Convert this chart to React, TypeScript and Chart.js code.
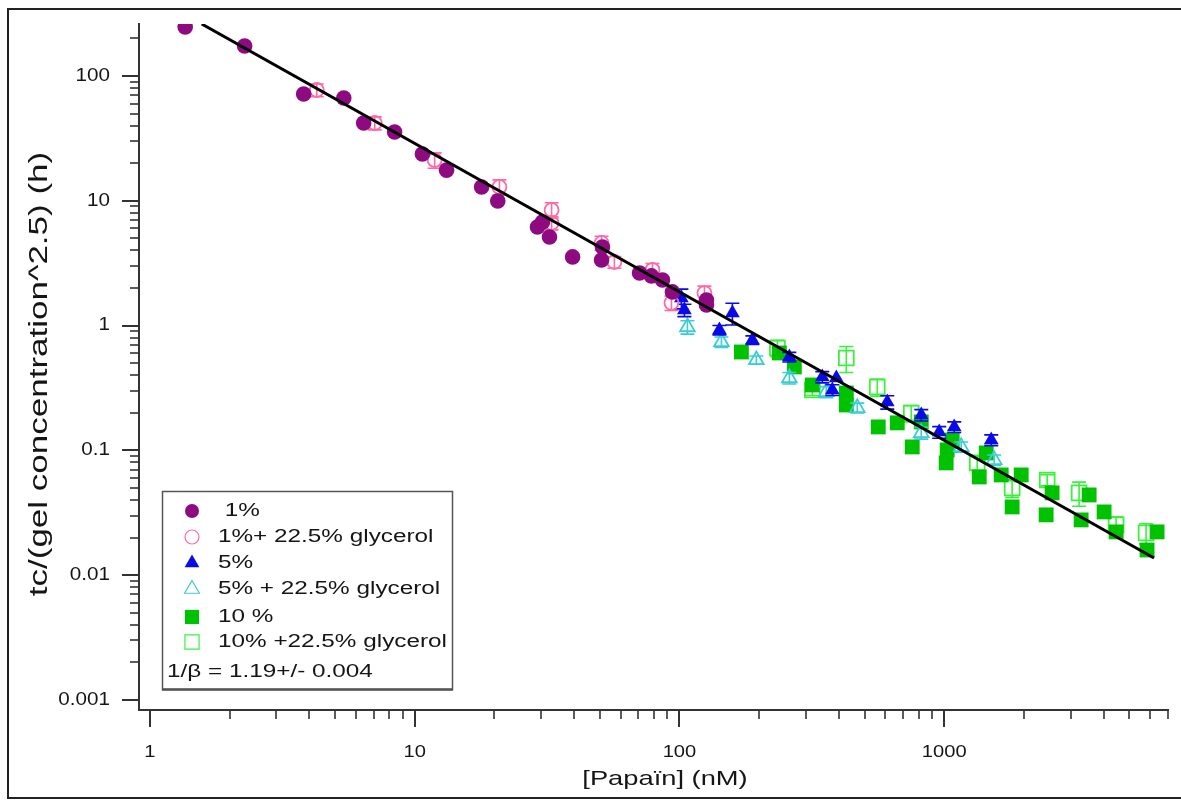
import React, { useEffect, useRef } from 'react';
import { Chart, registerables } from 'chart.js';

Chart.register(...registerables);

// Series data: papain concentration (nM) and tc / gel concentration^2.5 (h)
const papain1 = [1.36, 2.28, 3.81, 5.40, 6.42, 8.40, 10.7, 13.2, 17.9, 20.6, 29.1, 30.4, 32.3, 39.5, 50.8, 51.2, 70.7, 78.4, 86.3, 94.1, 126.5, 126.5];
const time1 = [247, 174, 71.7, 66.6, 42.0, 35.6, 23.7, 17.6, 12.9, 9.96, 6.17, 6.76, 5.13, 3.55, 3.35, 4.26, 2.64, 2.50, 2.32, 1.86, 1.60, 1.46];

const papain1g = [4.27, 7.07, 11.9, 20.9, 32.9, 32.9, 50.8, 56.8, 79.1, 93.3, 124.3];
const time1g = [77.2, 42.0, 21.2, 12.9, 8.44, 6.64, 4.59, 3.23, 2.79, 1.52, 1.82];
const err1g = [9, 5, 3, 1.8, 1.2, 0.8, 0.6, 0.35, 0.35, 0.2, 0.25];

const papain5 = [101.7, 104.4, 141.6, 158.5, 188.6, 260.1, 346.4, 391.4, 378.0, 609.4, 818.9, 957.5, 1091, 1505];
const time5 = [1.66, 1.33, 0.922, 1.26, 0.767, 0.560, 0.387, 0.380, 0.305, 0.244, 0.192, 0.140, 0.154, 0.121];
const err5 = [0.3, 0.15, 0.08, 0.25, 0.06, 0.05, 0.04, 0, 0.03, 0.03, 0.02, 0.015, 0.015, 0.012];

const papain5g = [107.2, 144.1, 195.2, 260.1, 358.6, 469.6, 818.9, 1159, 1544];
const time5g = [0.974, 0.739, 0.530, 0.380, 0.294, 0.219, 0.138, 0.1065, 0.0838];
const err5g = [0.12, 0.07, 0.04, 0.04, 0.03, 0.02, 0.015, 0.01, 0.008];

const papain10 = [171.4, 238.5, 271.6, 317.6, 426.8, 426.8, 563.5, 664.7, 757.1, 818.9, 1017, 1026, 1072, 1356, 1441, 1641, 1805, 1953, 2426, 2555, 3289, 3526, 4016, 4458, 5834, 6366];
const time10 = [0.614, 0.603, 0.466, 0.334, 0.288, 0.231, 0.154, 0.166, 0.1065, 0.169, 0.0793, 0.1007, 0.121, 0.0612, 0.0953, 0.0635, 0.0352, 0.0635, 0.0304, 0.0456, 0.0277, 0.0439, 0.0321, 0.0222, 0.0159, 0.0222];

const papain10g = [234.4, 426.8, 317.6, 558.6, 750.6, 1332, 1805, 2448, 3231, 4458, 5785];
const time10g = [0.661, 0.550, 0.305, 0.322, 0.199, 0.0793, 0.0500, 0.0579, 0.0456, 0.0253, 0.0218];
const err10g = [0.1, 0.13, 0.03, 0.05, 0.03, 0.01, 0.008, 0.006, 0.01, 0.004, 0.004];

// Power-law fit endpoints
const fitX = [1.57, 6200];
const fitY = [261, 0.0137];

const seriesLabels = [' 1%', '1%+ 22.5% glycerol', '5%', '5% + 22.5% glycerol', '10 %', '10% +22.5% glycerol'];
const fitLabel = '1/\u03b2 = 1.19+/- 0.004';

const xMajorTicks = [1, 10, 100, 1000];
const xTickLabels = ['1', '10', '100', '1000'];
const yMajorTicks = [0.001, 0.01, 0.1, 1, 10, 100];
const yTickLabels = ['0.001', '0.01', '0.1', '1', '10', '100'];

const xTitle = '[Papaïn] (nM)';
const yTitle = 'tc/(gel concentration^2.5) (h)';

const FONT = '"Liberation Sans", Arial, Helvetica, sans-serif';
const AXIS_COLOR = '#333';

const COLORS = {
  purple: '#8d0a80',
  pink: '#ff6aa6',
  blue: '#0a0ae6',
  cyan: '#3ccdd4',
  green: '#00c200',
  lightGreen: '#3ef03e',
};

const pts = (xs: number[], ys: number[]) => xs.map((x, i) => ({ x, y: ys[i] }));

function stretchedText(
  ctx: CanvasRenderingContext2D,
  text: string,
  x: number,
  y: number,
  size: number,
  align: CanvasTextAlign,
  stretch: number,
  rotate = false,
  color = '#151515'
) {
  ctx.save();
  ctx.translate(x, y);
  if (rotate) ctx.rotate(-Math.PI / 2);
  ctx.scale(stretch, 1);
  ctx.font = `${size}px ${FONT}`;
  ctx.textAlign = align;
  ctx.textBaseline = 'middle';
  ctx.fillStyle = color;
  ctx.fillText(text, 0, 0);
  ctx.restore();
}

function drawMarker(
  ctx: CanvasRenderingContext2D,
  style: string,
  x: number,
  y: number,
  r: number,
  fill: string | null,
  stroke: string
) {
  ctx.beginPath();
  if (style === 'circle') {
    ctx.arc(x, y, r, 0, Math.PI * 2);
  } else if (style === 'triangle') {
    ctx.moveTo(x, y - r);
    ctx.lineTo(x + r * 0.866, y + r * 0.5);
    ctx.lineTo(x - r * 0.866, y + r * 0.5);
    ctx.closePath();
  } else {
    const s = r * Math.SQRT1_2;
    ctx.rect(x - s, y - s, 2 * s, 2 * s);
  }
  if (fill) {
    ctx.fillStyle = fill;
    ctx.fill();
  } else {
    ctx.strokeStyle = stroke;
    ctx.lineWidth = 1.2;
    ctx.stroke();
  }
}

// Vertical error bars with caps, drawn right after their own dataset
const errorBarPlugin = {
  id: 'errorBars',
  afterDatasetDraw(chart: any, args: any) {
    const ds = chart.data.datasets[args.index];
    if (!ds.errorBars) return;
    const ctx = chart.ctx;
    const yScale = chart.scales.y;
    ctx.save();
    ctx.strokeStyle = ds.borderColor;
    ctx.lineWidth = 1.6;
    args.meta.data.forEach((el: any, i: number) => {
      const e = ds.errorBars[i];
      if (!e) return;
      const v = ds.data[i].y;
      const top = yScale.getPixelForValue(v + e);
      const bot = yScale.getPixelForValue(Math.max(v - e, v * 0.05));
      const cap = 7;
      ctx.beginPath();
      ctx.moveTo(el.x, top);
      ctx.lineTo(el.x, bot);
      ctx.moveTo(el.x - cap, top);
      ctx.lineTo(el.x + cap, top);
      ctx.moveTo(el.x - cap, bot);
      ctx.lineTo(el.x + cap, bot);
      ctx.stroke();
    });
    ctx.restore();
  },
};

// Log tick marks, tick labels, axis titles, boxed legend and outer frame
const decorPlugin = {
  id: 'decor',
  afterDraw(chart: any) {
    const ctx: CanvasRenderingContext2D = chart.ctx;
    const xs = chart.scales.x;
    const ys = chart.scales.y;
    const area = chart.chartArea;
    ctx.save();
    ctx.strokeStyle = AXIS_COLOR;

    // x ticks
    for (let d = 0; d < xMajorTicks.length; d++) {
      const base = xMajorTicks[d];
      for (let m = 1; m <= 9; m++) {
        const v = base * m;
        if (v > xs.max * 1.0001) continue;
        const px = Math.round(xs.getPixelForValue(v));
        ctx.lineWidth = m === 1 ? 2 : 1.6;
        ctx.beginPath();
        ctx.moveTo(px, area.bottom);
        ctx.lineTo(px, area.bottom + (m === 1 ? 17 : 9));
        ctx.stroke();
      }
    }
    // y ticks
    for (let d = 0; d < yMajorTicks.length; d++) {
      const base = yMajorTicks[d];
      for (let m = 1; m <= 9; m++) {
        const v = base * m;
        if (v > ys.max * 1.0001) continue;
        const py = Math.round(ys.getPixelForValue(v));
        ctx.lineWidth = m === 1 ? 2 : 1.6;
        ctx.beginPath();
        ctx.moveTo(area.left, py);
        ctx.lineTo(area.left - (m === 1 ? 17 : 9), py);
        ctx.stroke();
      }
    }

    // tick labels
    xMajorTicks.forEach((v, i) => {
      stretchedText(ctx, xTickLabels[i], xs.getPixelForValue(v), 752, 16.5, 'center', 1.22);
    });
    yMajorTicks.forEach((v, i) => {
      stretchedText(ctx, yTickLabels[i], 110, ys.getPixelForValue(v), 17.5, 'right', 1.18);
    });

    // axis titles
    stretchedText(ctx, xTitle, 665, 779, 21, 'center', 1.3);
    stretchedText(ctx, yTitle, 40, 374, 25, 'center', 1.4, true);

    // legend box
    const lx = 162, ly = 491, lw = 290, lh = 198;
    ctx.fillStyle = '#fff';
    ctx.fillRect(lx, ly, lw, lh);
    ctx.strokeStyle = '#555';
    ctx.lineWidth = 1.5;
    ctx.strokeRect(lx + 0.5, ly + 0.5, lw, lh);
    ctx.lineWidth = 2.5;
    ctx.beginPath();
    ctx.moveTo(lx, ly + lh + 0.5);
    ctx.lineTo(lx + lw + 1, ly + lh + 0.5);
    ctx.stroke();

    const rowsY = [511, 537, 563, 589, 617, 642];
    const series = chart.data.datasets.filter((ds: any) => ds.legendStyle);
    series.forEach((ds: any, i: number) => {
      const y = rowsY[i];
      drawMarker(ctx, ds.legendStyle, 192, y, ds.legendStyle === 'rect' ? 10 : ds.legendStyle === 'triangle' ? 8.5 : 7,
        ds.legendFilled ? ds.borderColor : null, ds.borderColor);
      stretchedText(ctx, ds.label, 218, y, 18, 'left', 1.35);
    });
    stretchedText(ctx, fitLabel, 167, 672, 18, 'left', 1.35);

    // outer frame
    ctx.strokeStyle = '#222';
    ctx.lineWidth = 2;
    ctx.beginPath();
    ctx.moveTo(1181, 9);
    ctx.lineTo(8, 9);
    ctx.lineTo(8, 798);
    ctx.lineTo(1181, 798);
    ctx.stroke();
    ctx.restore();
  },
};

export default function App() {
  const canvasRef = useRef<HTMLCanvasElement>(null);

  useEffect(() => {
    document.body.style.margin = '0';
    const canvas = canvasRef.current;
    if (!canvas) return;

    const hollow = 'rgba(0,0,0,0)';
    const chart = new Chart(canvas, {
      type: 'scatter',
      data: {
        datasets: [
          {
            label: fitLabel,
            data: pts(fitX, fitY),
            showLine: true,
            borderColor: '#000',
            borderWidth: 3,
            pointRadius: 0,
            order: 0,
          } as any,
          {
            label: seriesLabels[0],
            data: pts(papain1, time1),
            pointStyle: 'circle',
            pointRadius: 7.8,
            backgroundColor: COLORS.purple,
            borderColor: COLORS.purple,
            borderWidth: 0,
            legendStyle: 'circle',
            legendFilled: true,
            order: 1,
          },
          {
            label: seriesLabels[1],
            data: pts(papain1g, time1g),
            pointStyle: 'circle',
            pointRadius: 7,
            backgroundColor: hollow,
            borderColor: COLORS.pink,
            borderWidth: 1.8,
            errorBars: err1g,
            legendStyle: 'circle',
            legendFilled: false,
            order: 1,
          },
          {
            label: seriesLabels[2],
            data: pts(papain5, time5),
            pointStyle: 'triangle',
            pointRadius: 8.5,
            backgroundColor: COLORS.blue,
            borderColor: COLORS.blue,
            borderWidth: 0,
            errorBars: err5,
            legendStyle: 'triangle',
            legendFilled: true,
            order: 1,
          },
          {
            label: seriesLabels[3],
            data: pts(papain5g, time5g),
            pointStyle: 'triangle',
            pointRadius: 8.5,
            backgroundColor: hollow,
            borderColor: COLORS.cyan,
            borderWidth: 1.8,
            errorBars: err5g,
            legendStyle: 'triangle',
            legendFilled: false,
            order: 1,
          },
          {
            label: seriesLabels[4],
            data: pts(papain10, time10),
            pointStyle: 'rect',
            pointRadius: 10.5,
            backgroundColor: COLORS.green,
            borderColor: COLORS.green,
            borderWidth: 0,
            legendStyle: 'rect',
            legendFilled: true,
            order: 1,
          },
          {
            label: seriesLabels[5],
            data: pts(papain10g, time10g),
            pointStyle: 'rect',
            pointRadius: 10.5,
            backgroundColor: hollow,
            borderColor: COLORS.lightGreen,
            borderWidth: 1.8,
            errorBars: err10g,
            legendStyle: 'rect',
            legendFilled: false,
            order: 1,
          },
        ] as any,
      },
      options: {
        responsive: false,
        animation: false,
        events: [],
        layout: { padding: { top: 24, right: 13, left: 0, bottom: 0 } },
        plugins: {
          legend: { display: false },
          tooltip: { enabled: false },
        },
        scales: {
          x: {
            type: 'logarithmic',
            min: 0.91,
            max: 7000,
            bounds: 'data',
            ticks: { display: false },
            grid: { drawOnChartArea: false, drawTicks: false, lineWidth: 2, color: AXIS_COLOR },
            border: { display: true, color: AXIS_COLOR, width: 2 },
            afterFit: (s: any) => { s.height = 90; },
          },
          y: {
            type: 'logarithmic',
            min: 0.00083,
            max: 261,
            bounds: 'data',
            ticks: { display: false },
            grid: { drawOnChartArea: false, drawTicks: false, lineWidth: 2, color: AXIS_COLOR },
            border: { display: true, color: AXIS_COLOR, width: 2 },
            afterFit: (s: any) => { s.width = 139; },
          },
        },
      } as any,
      plugins: [errorBarPlugin, decorPlugin],
    });

    return () => chart.destroy();
  }, []);

  return <canvas ref={canvasRef} width={1181} height={800} style={{ display: 'block' }} />;
}
